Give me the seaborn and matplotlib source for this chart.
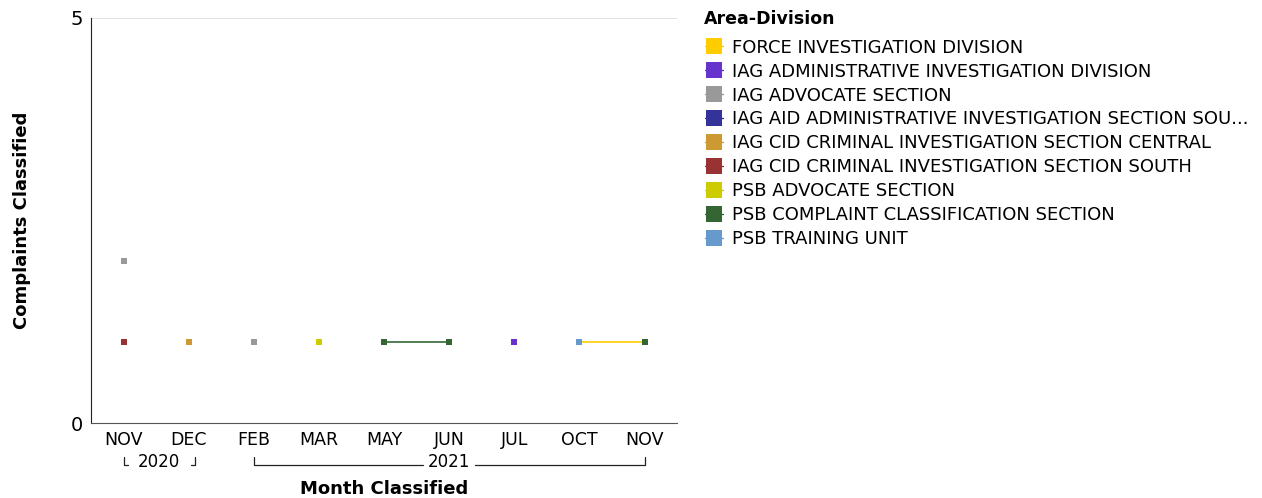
import pandas as pd
import numpy as np
import matplotlib
matplotlib.use('Agg')
import matplotlib.pyplot as plt
from matplotlib.lines import Line2D
import seaborn as sns

# months on the x axis, and the year groups underneath
months = ['NOV', 'DEC', 'FEB', 'MAR', 'MAY', 'JUN', 'JUL', 'OCT', 'NOV']
years = ['2020', '2020', '2021', '2021', '2021', '2021', '2021', '2021', '2021']

divisions = ['FORCE INVESTIGATION DIVISION',
             'IAG ADMINISTRATIVE INVESTIGATION DIVISION',
             'IAG ADVOCATE SECTION',
             'IAG AID ADMINISTRATIVE INVESTIGATION SECTION SOU...',
             'IAG CID CRIMINAL INVESTIGATION SECTION CENTRAL',
             'IAG CID CRIMINAL INVESTIGATION SECTION SOUTH',
             'PSB ADVOCATE SECTION',
             'PSB COMPLAINT CLASSIFICATION SECTION',
             'PSB TRAINING UNIT']
colors = ['#FFCC00', '#6633CC', '#999999', '#333399', '#CC9933',
          '#993333', '#CCCC00', '#336633', '#6699CC']

# complaints per month for each division (None = no complaints that month)
force_inv = [None, None, None, None, None, None, None, 1, 1]
iag_admin = [None, None, None, None, None, None, 1, None, None]
iag_advocate = [2, None, 1, None, None, None, None, None, None]
iag_aid_south = [1, None, None, None, None, None, None, None, None]
cid_central = [None, 1, None, None, None, None, None, None, None]
cid_south = [1, None, None, None, None, None, None, None, None]
psb_advocate = [None, None, None, 1, None, None, None, None, None]
psb_complaint = [None, None, None, None, 1, 1, None, None, 1]
psb_training = [None, None, None, None, None, None, None, 1, None]

series = [force_inv, iag_admin, iag_advocate, iag_aid_south, cid_central,
          cid_south, psb_advocate, psb_complaint, psb_training]

# long table; a new segment starts after each gap so lines don't bridge gaps
rows = []
for name, vals in zip(divisions, series):
    seg = 0
    prev = False
    for i, v in enumerate(vals):
        if v is None:
            if prev:
                seg += 1
            prev = False
            continue
        rows.append({'division': name, 'pos': i, 'count': v, 'seg': f'{name}-{seg}'})
        prev = True
df = pd.DataFrame(rows)

sns.set_style('white')
plt.rcParams['font.family'] = ['DejaVu Sans']
plt.rcParams['text.color'] = 'black'
plt.rcParams['xtick.color'] = 'black'
plt.rcParams['ytick.color'] = 'black'
plt.rcParams['axes.labelcolor'] = 'black'

fig = plt.figure(figsize=(12.62, 4.98), dpi=100)
ax = fig.add_axes([0.0721, 0.1506, 0.4644, 0.8133])

for name, col in zip(divisions, colors):
    sub = df[df['division'] == name]
    if sub.empty:
        continue
    sns.lineplot(data=sub, x='pos', y='count', units='seg', estimator=None,
                 color=col, marker='s', markersize=5, markeredgewidth=0,
                 linewidth=1.2, ax=ax, legend=False)

ax.set_xlim(-0.5, len(months) - 0.5)
ax.set_ylim(0, 5)
ax.set_yticks([0, 5])
ax.set_yticklabels(['0', '5'], fontsize=14)
ax.set_xticks(range(len(months)))
ax.set_xticklabels(months, fontsize=12.5)
ax.tick_params(axis='both', length=0, pad=6)
ax.axhline(5, color='#dddddd', linewidth=1.2)
for s in ['top', 'right']:
    ax.spines[s].set_visible(False)
ax.spines['left'].set_color('#222222')
ax.spines['bottom'].set_color('#555555')
ax.set_xlabel('Month Classified', fontsize=13, fontweight='bold', labelpad=22)
ax.set_ylabel('Complaints Classified', fontsize=13, fontweight='bold', labelpad=28)

# year brackets under the month labels
trans = ax.get_xaxis_transform()
yt, yb, ytxt = -0.084, -0.104, -0.097
kw = dict(color='#222222', lw=0.9, transform=trans, clip_on=False)
ax.text(0.55, ytxt, '2020', transform=trans, ha='center', va='center',
        fontsize=12, clip_on=False)
ax.plot([0.0, 0.0, 0.07], [yt, yb, yb], **kw)
ax.plot([1.03, 1.1, 1.1], [yb, yb, yt], **kw)
ax.text(5, ytxt, '2021', transform=trans, ha='center', va='center',
        fontsize=12, clip_on=False)
ax.plot([2, 2, 4.6], [yt, yb, yb], **kw)
ax.plot([5.4, 8, 8], [yb, yb, yt], **kw)

handles = [Line2D([0], [0], color=c, marker='s', markersize=11, markeredgewidth=0,
                  linewidth=1) for c in colors]
fig.text(704 / 1262, 1 - 19 / 498, 'Area-Division', fontsize=12.5, fontweight='bold',
         ha='left', va='center')
leg = fig.legend(handles, divisions, loc='upper left', bbox_to_anchor=(0.553, 0.937),
                 frameon=False, fontsize=13,
                 handlelength=1.0, handletextpad=0.5, labelspacing=0.33,
                 borderaxespad=0)

fig.savefig('out.png', dpi=100)
